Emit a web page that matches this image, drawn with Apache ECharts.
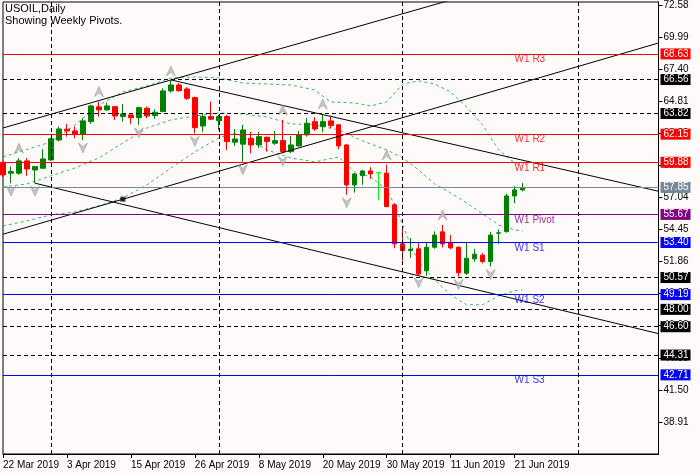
<!DOCTYPE html>
<html>
<head>
<meta charset="utf-8">
<script src="https://cdn.jsdelivr.net/npm/echarts@6/dist/echarts.min.js"></script>
<style>
  html, body { margin: 0; padding: 0; background: #fffafa; }
  #chart { width: 700px; height: 475px; }
</style>
</head>
<body>
<div id="chart"></div>
<script>
// bar dates (daily, trading days only)
const dates = ['22 Mar 2019','25 Mar 2019','26 Mar 2019','27 Mar 2019','28 Mar 2019','29 Mar 2019',
  '1 Apr 2019','2 Apr 2019','3 Apr 2019','4 Apr 2019','5 Apr 2019','8 Apr 2019','9 Apr 2019','10 Apr 2019',
  '11 Apr 2019','12 Apr 2019','15 Apr 2019','16 Apr 2019','17 Apr 2019','18 Apr 2019','22 Apr 2019',
  '23 Apr 2019','24 Apr 2019','25 Apr 2019','26 Apr 2019','29 Apr 2019','30 Apr 2019',
  '1 May 2019','2 May 2019','3 May 2019','6 May 2019','7 May 2019','8 May 2019','9 May 2019','10 May 2019',
  '13 May 2019','14 May 2019','15 May 2019','16 May 2019','17 May 2019','20 May 2019','21 May 2019',
  '22 May 2019','23 May 2019','24 May 2019','27 May 2019','28 May 2019','29 May 2019','30 May 2019','31 May 2019',
  '3 Jun 2019','4 Jun 2019','5 Jun 2019','6 Jun 2019','7 Jun 2019','10 Jun 2019','11 Jun 2019','12 Jun 2019',
  '13 Jun 2019','14 Jun 2019','17 Jun 2019','18 Jun 2019','19 Jun 2019','20 Jun 2019','21 Jun 2019','24 Jun 2019'];
// empty slots to the right of the last bar
const futureSlots = ['','','','','','','','','','','','','','','','',''];

const opens  = [59.88,59.00,59.00,59.99,59.26,59.40,60.07,61.68,62.55,62.41,62.14,63.16,64.35,64.11,64.37,63.57,
  63.70,63.48,64.24,63.65,63.97,65.64,66.12,65.80,65.10,62.81,63.57,63.24,63.57,61.50,61.34,61.82,61.28,61.90,
  61.42,61.63,60.74,61.20,62.09,63.16,62.76,63.22,62.90,61.28,58.05,58.80,59.18,59.02,59.00,56.44,53.29,52.75,
  52.89,51.11,53.02,54.26,53.40,53.02,50.92,52.08,52.38,51.86,54.15,54.28,57.16,57.65];
const closes = [58.86,59.13,59.99,59.34,59.53,60.15,61.77,62.57,62.41,62.14,63.22,64.43,64.11,64.43,63.62,63.78,
  63.48,64.29,63.62,63.92,65.64,66.12,65.66,65.05,62.68,63.57,63.36,63.57,61.55,61.76,62.49,61.28,61.95,61.55,
  61.63,60.74,61.28,62.09,63.03,62.57,63.16,62.84,61.20,58.05,58.94,59.18,58.94,59.04,56.30,53.29,52.75,52.86,
  50.85,53.02,54.00,53.29,52.97,50.95,52.13,52.46,51.86,54.00,54.18,57.16,57.65,57.85];
const lows   = [58.70,58.19,58.86,58.78,58.19,59.34,59.99,61.55,61.95,61.82,61.68,62.98,63.57,64.05,63.30,63.16,
  62.98,62.90,63.44,63.38,63.92,65.50,65.58,64.91,62.22,62.35,63.30,62.49,60.88,61.20,59.93,60.61,61.01,60.74,
  61.28,60.61,60.61,61.14,61.95,62.41,62.31,62.63,60.93,57.25,57.43,58.05,58.54,56.79,56.25,52.94,51.95,52.16,
  50.79,50.71,52.90,53.00,52.85,50.65,50.79,51.86,51.72,51.46,53.29,54.20,56.58,57.53];
const highs  = [59.95,59.53,60.21,60.21,59.55,60.93,61.85,62.76,62.98,62.76,63.44,64.51,64.78,64.70,64.40,64.59,
  63.75,64.37,64.37,64.16,65.86,66.45,66.26,65.94,65.18,63.76,64.78,63.70,63.70,62.55,62.90,62.35,62.35,61.95,
  62.41,63.30,62.00,62.40,63.44,63.52,63.78,63.65,62.95,61.34,59.00,59.26,59.48,59.04,59.67,56.58,54.45,53.75,
  53.37,53.37,54.30,54.82,54.00,53.08,53.45,52.89,52.54,54.26,54.46,57.33,57.97,58.22];
const limeBar = 47;

// bollinger-style bands: [bar index, price]
const bandUpper = [[0,60.31],[6,61.52],[9,62.89],[12,64.51],[15,65.56],[18,66.04],[21,66.69],[24,66.77],[27,66.69],
  [30,66.28],[33,66.20],[36,66.12],[39,65.72],[41,64.75],[44,64.67],[46,64.43],[48,64.75],[50,66.20],[52,66.45],
  [54,66.20],[56,65.56],[58,64.35],[60,62.89],[62,60.88],[64,59.83],[65,59.59]];
const bandMiddle = [[0,57.89],[3,58.13],[6,58.78],[9,59.42],[12,60.23],[15,61.44],[18,62.65],[21,63.30],[24,63.62],
  [27,63.86],[30,63.78],[33,63.54],[36,62.98],[39,62.90],[42,62.49],[45,61.60],[48,60.88],[50,60.23],[52,59.26],
  [54,58.13],[56,57.41],[58,56.60],[60,55.71],[62,54.82],[64,54.42],[65,54.34]];
const bandLower = [[0,54.74],[3,55.15],[6,55.63],[9,55.87],[12,56.36],[15,57.00],[18,58.05],[21,59.42],[24,60.72],
  [27,61.85],[29,62.25],[30,61.95],[33,60.88],[36,60.23],[39,59.91],[42,60.31],[44,59.10],[46,58.70],[48,57.65],
  [49,56.44],[50,54.82],[51,53.21],[52,51.84],[54,50.38],[56,49.17],[58,48.37],[60,48.37],[62,49.09],[64,49.50],[65,49.58]];

// fractal bars
const fractalUp = [2, 12, 21, 35, 40, 48, 55];
const fractalDown = [1, 4, 10, 17, 24, 30, 35, 43, 52, 57, 61];

// weekly pivots
const pivotNames  = ['W1 R3','W1 R2','W1 R1','W1 Pivot','W1 S1','W1 S2','W1 S3'];
const pivotValues = [68.63, 62.15, 59.88, 55.67, 53.40, 49.19, 42.71];
const pivotLabelBar = 64;
// dashed horizontal levels, bid, vertical lines
const levelValues = [66.56, 63.82, 50.57, 48.00, 46.60, 44.31];
const bidPrice = 57.85;
const vLineBars = [6, 27, 50, 72];
// trend lines: pairs of [bar index, price]
const trendLines = [
  [[0, 62.65], [60, 73.72]],
  [[0, 54.07], [82, 69.51]],
  [[20.56, 66.53], [82, 57.54]],
  [[4, 58.19], [82, 46.04]]
];
const anchorPoint = [15, 56.90];
// price axis labels
const yTicks = [38.91, 41.50, 44.09, 46.68, 49.27, 51.86, 54.45, 57.04, 59.63, 62.22, 64.81, 67.40, 69.99, 72.58];

const FONT = 'Liberation Sans';
const cats = dates.concat(futureSlots);
const labelEvery = (i) => i % 8 === 0 && i < dates.length;

function pivotColor(name) {
  if (name.indexOf('R') > 0) return '#ff0000';
  if (name.indexOf('Pivot') > 0) return '#800080';
  return '#0000ff';
}

function boxLabel(v, bg) {
  return {
    show: true, position: 'end', distance: 2, formatter: v.toFixed(2),
    backgroundColor: bg, color: '#fff', fontSize: 10, fontFamily: FONT,
    padding: [1, 2, 0, 3], lineHeight: 10
  };
}

const markData = [];
pivotValues.forEach((v, i) => {
  const c = pivotColor(pivotNames[i]);
  markData.push({ yAxis: v, lineStyle: { color: c, type: 'solid', width: 1 }, label: boxLabel(v, c) });
});
levelValues.forEach(v => {
  markData.push({ yAxis: v, lineStyle: { color: '#000', type: [4, 3], width: 1 }, label: boxLabel(v, '#000') });
});
markData.push({ yAxis: bidPrice, lineStyle: { color: '#778899', type: 'solid', width: 1 }, label: boxLabel(bidPrice, '#778899') });
vLineBars.forEach(b => {
  markData.push({ xAxis: b, lineStyle: { color: '#000', type: [4, 3], width: 1 }, label: { show: false } });
});

const candleData = opens.map((o, i) => {
  const d = { value: [o, closes[i], lows[i], highs[i]] };
  if (i === limeBar) {
    d.itemStyle = { color: '#00ff00', color0: '#00ff00', borderColor: '#00ff00', borderColor0: '#00ff00' };
  }
  return d;
});

const bandStyle = { color: '#3cb371', width: 1, type: [3, 3] };
const bandSeries = [bandUpper, bandMiddle, bandLower].map(d => ({
  type: 'line', data: d, symbol: 'none', lineStyle: bandStyle, silent: true, z: 2
}));

const trendSeries = trendLines.map(d => ({
  type: 'line', data: d, symbol: 'none', clip: true, silent: true, z: 4,
  lineStyle: { color: '#000', width: 1 }
}));

const arrowUp = 'path://M5,0 L10,10 L5,6.5 L0,10 Z';
const arrowDown = 'path://M0,0 L5,3.5 L10,0 L5,10 Z';
const arrowStyle = { color: '#b8b8b8', borderColor: '#8a8a8a', borderWidth: 0.6 };

const chart = echarts.init(document.getElementById('chart'));
chart.setOption({
  animation: false,
  backgroundColor: '#fffafa',
  title: {
    text: 'USOIL,Daily', subtext: 'Showing Weekly Pivots.',
    left: 5, top: 3, padding: 0, itemGap: 1,
    textStyle: { fontSize: 11, fontWeight: 'normal', color: '#000', fontFamily: FONT },
    subtextStyle: { fontSize: 11, color: '#000', fontFamily: FONT }
  },
  grid: { left: 2.5, right: 41.5, top: 2, bottom: 21, show: true, borderColor: '#000', borderWidth: 1, backgroundColor: 'transparent' },
  xAxis: {
    type: 'category', data: cats, boundaryGap: false,
    axisLine: { show: true, lineStyle: { color: '#000' } },
    axisTick: { show: true, interval: labelEvery, length: 4, lineStyle: { color: '#000' } },
    axisLabel: { interval: labelEvery, align: 'left', color: '#000', fontSize: 10, fontFamily: FONT, margin: 6 },
    splitLine: { show: false }
  },
  yAxis: {
    type: 'value', position: 'right', min: 36.32, max: 72.82,
    axisLine: { show: true, lineStyle: { color: '#000' } },
    axisTick: { show: true, length: 4, customValues: yTicks, lineStyle: { color: '#000' } },
    axisLabel: { customValues: yTicks, formatter: v => v.toFixed(2), color: '#000', fontSize: 10, fontFamily: FONT, margin: 5 },
    splitLine: { show: false }
  },
  series: [
    ...bandSeries,
    {
      type: 'candlestick', data: candleData, barWidth: 5, z: 3,
      itemStyle: { color: '#008000', color0: '#ff0000', borderColor: '#008000', borderColor0: '#ff0000', borderWidth: 1 },
      markLine: { silent: true, symbol: ['none', 'none'], animation: false, data: markData }
    },
    ...trendSeries,
    {
      type: 'scatter', symbol: 'rect', symbolSize: 5, data: [anchorPoint], z: 5, silent: true,
      itemStyle: { color: '#000' }
    },
    {
      type: 'scatter', symbol: arrowUp, symbolSize: [9, 10], symbolOffset: [0, -10], z: 5, silent: true,
      data: fractalUp.map(i => [i, highs[i]]), itemStyle: arrowStyle
    },
    {
      type: 'scatter', symbol: arrowDown, symbolSize: [9, 10], symbolOffset: [0, 8], z: 5, silent: true,
      data: fractalDown.map(i => [i, lows[i]]), itemStyle: arrowStyle
    },
    {
      type: 'scatter', symbolSize: 1, z: 6, silent: true,
      itemStyle: { color: 'rgba(0,0,0,0)' },
      data: pivotNames.map((n, i) => ({
        value: [pivotLabelBar, pivotValues[i]], name: n,
        label: { color: pivotColor(n) }
      })),
      label: { show: true, formatter: '{b}', position: 'bottom', align: 'left', distance: 0, fontSize: 10, fontFamily: FONT }
    }
  ]
});
</script>
</body>
</html>
